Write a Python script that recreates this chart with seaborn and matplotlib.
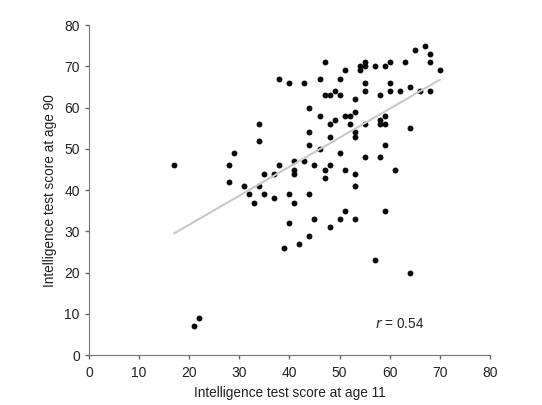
import matplotlib
matplotlib.use('Agg')
from matplotlib import pyplot as plt
import seaborn as sns
import pandas as pd

age11 = [47, 38, 40, 43, 46, 47, 48, 44, 46, 48, 34, 34, 44, 48, 44, 46, 29, 17, 28, 38,
         41, 41, 41, 43, 45, 47, 48, 47, 35, 37, 28, 31, 34, 32, 35, 40, 44, 37,
         67, 65, 68, 68, 70, 51, 54, 55, 55, 54, 57, 59, 60, 63, 50, 55, 60, 49, 50, 55,
         58, 60, 62, 64, 66, 68, 53, 49, 51, 52, 53, 52, 55, 58, 59, 58, 59, 64, 53, 53,
         50, 59, 55, 58, 51, 53, 61, 53,
         33, 41, 40, 45, 48, 39, 42, 44, 22, 21,
         50, 51, 53, 59, 57, 64]
age90 = [71, 67, 66, 66, 67, 63, 63, 60, 58, 56, 56, 52, 54, 53, 51, 50, 49, 46, 46, 46,
         47, 45, 44, 47, 46, 45, 46, 43, 44, 44, 42, 41, 41, 39, 39, 39, 39, 38,
         75, 74, 73, 71, 69, 69, 70, 71, 70, 69, 70, 70, 71, 71, 67, 66, 66, 64, 63, 64,
         63, 64, 64, 65, 64, 64, 62, 57, 58, 58, 59, 56, 56, 57, 58, 56, 56, 55, 54, 53,
         49, 51, 48, 48, 45, 44, 45, 41,
         37, 37, 32, 33, 31, 26, 27, 29, 9, 7,
         33, 35, 33, 35, 23, 20]

data = pd.DataFrame({'age11': age11, 'age90': age90})

sns.set_style('ticks')
plt.rcParams['font.family'] = ['Liberation Sans', 'DejaVu Sans']

fig = plt.figure(figsize=(5.42, 4.05), dpi=100)
ax = fig.add_axes([0.164, 0.123, 0.740, 0.815])

sns.regplot(data=data, x='age11', y='age90', ax=ax, ci=None, truncate=True,
            scatter_kws={'s': 18, 'color': '#0a0a0a', 'linewidths': 0, 'alpha': 1},
            line_kws={'color': '#c8c8c8', 'linewidth': 1.5, 'zorder': 1})

ax.set_xlim(0, 80)
ax.set_ylim(0, 80)
ax.set_xticks(range(0, 81, 10))
ax.set_yticks(range(0, 81, 10))
ax.set_xlabel('Intelligence test score at age 11', fontsize=9.8, color='#222222', labelpad=4)
ax.set_ylabel('Intelligence test score at age 90', fontsize=9.8, color='#222222', labelpad=5)
ax.tick_params(labelsize=10, colors='#666666', labelcolor='#222222', length=3, width=1)
ax.tick_params(axis='x', pad=5)
for sp in ['left', 'bottom']:
    ax.spines[sp].set_color('#777777')
sns.despine(ax=ax)

ax.text(57, 6.5, '$r$ = 0.54', fontsize=9.8, color='#222222')

plt.savefig('out.png', dpi=100)
